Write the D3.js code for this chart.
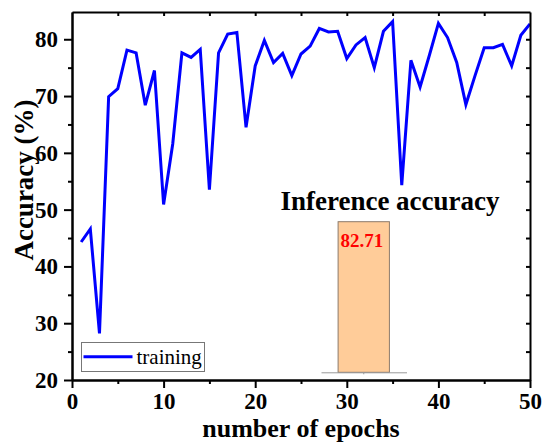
<!DOCTYPE html>
<html>
<head>
<meta charset="utf-8">
<script src="https://cdn.jsdelivr.net/npm/d3@7"></script>
<style>
  body { margin: 0; background: #fff; }
  svg { display: block; }
</style>
</head>
<body>
<div id="chart"></div>
<script>
/// Data
const epochs = d3.range(1, 51);
const trainingAcc = [
  44.3, 46.6, 28.2, 69.9, 71.3, 78.1, 77.6, 68.4, 74.5, 50.9,
  61.6, 77.6, 76.8, 78.2, 53.5, 77.6, 80.9, 81.2, 64.5, 75.3,
  79.8, 75.9, 77.5, 73.6, 77.4, 78.8, 81.9, 81.3, 81.4, 76.6,
  79.0, 80.3, 75.0, 81.4, 83.1, 54.3, 76.3, 71.6, 77.1, 82.8,
  80.3, 75.9, 68.5, 73.6, 78.5, 78.5, 79.1, 75.3, 80.7, 82.7
];
const xTicks = [0, 10, 20, 30, 40, 50];
const yTicks = [20, 30, 40, 50, 60, 70, 80];
const inferenceCats = ["inference"];
const inferenceAcc = [82.71];

//Geometry
const W = 545, H = 444;
const plot = { left: 72, right: 530, top: 12, bottom: 380 };
const font = "'Liberation Serif', 'Times New Roman', serif";

const xScale = d3.scaleLinear().domain([0, 50]).range([plot.left, plot.right]);
const yScale = d3.scaleLinear().domain([20, 84.8]).range([plot.bottom, plot.top]);

const svg = d3.select("#chart").append("svg")
  .attr("width", W)
  .attr("height", H);

// line
svg.append("path")
  .datum(epochs.map((e, i) => ({ e: e, v: trainingAcc[i] })))
  .attr("fill", "none")
  .attr("stroke", "#0000ff")
  .attr("stroke-width", 3)
  .attr("d", d3.line().x(d => xScale(d.e)).y(d => yScale(d.v)));

// inset bar (inference accuracy)
const insetX = d3.scaleBand().domain(inferenceCats).range([321, 406.5]).padding(0.25);
const insetY = d3.scaleLinear().domain([0, inferenceAcc[0]]).range([372.3, 221.7]);

svg.append("g").selectAll("rect")
  .data(inferenceCats)
  .join("rect")
  .attr("x", d => insetX(d))
  .attr("width", insetX.bandwidth())
  .attr("y", (d, i) => insetY(inferenceAcc[i]))
  .attr("height", (d, i) => insetY(0) - insetY(inferenceAcc[i]))
  .attr("fill", "#ffcc99")
  .attr("stroke", "#8c7b6b")
  .attr("stroke-width", 1);

const insetAxis = svg.append("g")
  .attr("transform", "translate(0," + insetY(0) + ")")
  .call(d3.axisBottom(insetX).tickSize(2).tickSizeOuter(0).tickFormat(""));
insetAxis.selectAll("path, line").attr("stroke", "#999").attr("stroke-width", 1);

svg.append("g").selectAll("text")
  .data(inferenceCats)
  .join("text")
  .attr("x", d => insetX(d) + insetX.bandwidth() / 2 - 2)
  .attr("y", (d, i) => insetY(inferenceAcc[i]) + 25)
  .attr("text-anchor", "middle")
  .attr("font-family", font)
  .attr("font-weight", "bold")
  .attr("font-size", 19)
  .attr("fill", "#ff0000")
  .text((d, i) => inferenceAcc[i].toFixed(2));

svg.append("text")
  .attr("x", 390)
  .attr("y", 210)
  .attr("text-anchor", "middle")
  .attr("font-family", font)
  .attr("font-weight", "bold")
  .attr("font-size", 27)
  .text("Inference accuracy");

// axes
function styleAxis(g) {
  g.select(".domain").attr("stroke", "#000").attr("stroke-width", 2);
  g.selectAll(".tick line").attr("stroke", "#000").attr("stroke-width", 2);
}
const minorX = d3.range(5, 50, 10);
const minorY = d3.range(25, 85, 10);
const allX = d3.range(0, 51, 5);
const allY = d3.range(20, 85, 5);

// bottom
svg.append("g")
  .attr("transform", "translate(0," + plot.bottom + ")")
  .call(d3.axisBottom(xScale).tickValues(minorX).tickSize(4).tickSizeOuter(0).tickFormat(""))
  .call(styleAxis);
const xAxis = svg.append("g")
  .attr("transform", "translate(0," + plot.bottom + ")")
  .call(d3.axisBottom(xScale).tickValues(xTicks).tickSize(8).tickSizeOuter(0).tickPadding(5))
  .call(styleAxis);
xAxis.selectAll("text")
  .attr("font-family", font).attr("font-weight", "bold").attr("font-size", 23).attr("fill", "#000");

// left
svg.append("g")
  .attr("transform", "translate(" + plot.left + ",0)")
  .call(d3.axisLeft(yScale).tickValues(minorY).tickSize(4).tickSizeOuter(0).tickFormat(""))
  .call(styleAxis);
const yAxis = svg.append("g")
  .attr("transform", "translate(" + plot.left + ",0)")
  .call(d3.axisLeft(yScale).tickValues(yTicks).tickSize(8).tickSizeOuter(0).tickPadding(6))
  .call(styleAxis);
yAxis.selectAll("text")
  .attr("font-family", font).attr("font-weight", "bold").attr("font-size", 23).attr("fill", "#000");

// top + right (inward ticks, no labels)
svg.append("g")
  .attr("transform", "translate(0," + plot.top + ")")
  .call(d3.axisBottom(xScale).tickValues(allX.slice(1, -1)).tickSize(4).tickSizeOuter(0).tickFormat(""))
  .call(styleAxis);
svg.append("g")
  .attr("transform", "translate(" + plot.right + ",0)")
  .call(d3.axisLeft(yScale).tickValues(allY.slice(1)).tickSize(4).tickSizeOuter(0).tickFormat(""))
  .call(styleAxis);

// axis titles
svg.append("text")
  .attr("x", (plot.left + plot.right) / 2)
  .attr("y", 437)
  .attr("text-anchor", "middle")
  .attr("font-family", font)
  .attr("font-weight", "bold")
  .attr("font-size", 26)
  .text("number of epochs");

svg.append("text")
  .attr("transform", "translate(33,180) rotate(-90)")
  .attr("text-anchor", "middle")
  .attr("font-family", font)
  .attr("font-weight", "bold")
  .attr("font-size", 27)
  .text("Accuracy (%)");

// legend
const legend = svg.append("g");
legend.append("rect")
  .attr("x", 81.5).attr("y", 342.5)
  .attr("width", 123).attr("height", 29)
  .attr("fill", "#fff")
  .attr("stroke", "#777")
  .attr("stroke-width", 1);
legend.append("line")
  .attr("x1", 83.5).attr("x2", 132.5)
  .attr("y1", 356.7).attr("y2", 356.7)
  .attr("stroke", "#0000ff")
  .attr("stroke-width", 3);
legend.append("text")
  .attr("x", 136.5).attr("y", 363.5)
  .attr("font-family", font)
  .attr("font-size", 21)
  .text("training");
</script>
</body>
</html>
